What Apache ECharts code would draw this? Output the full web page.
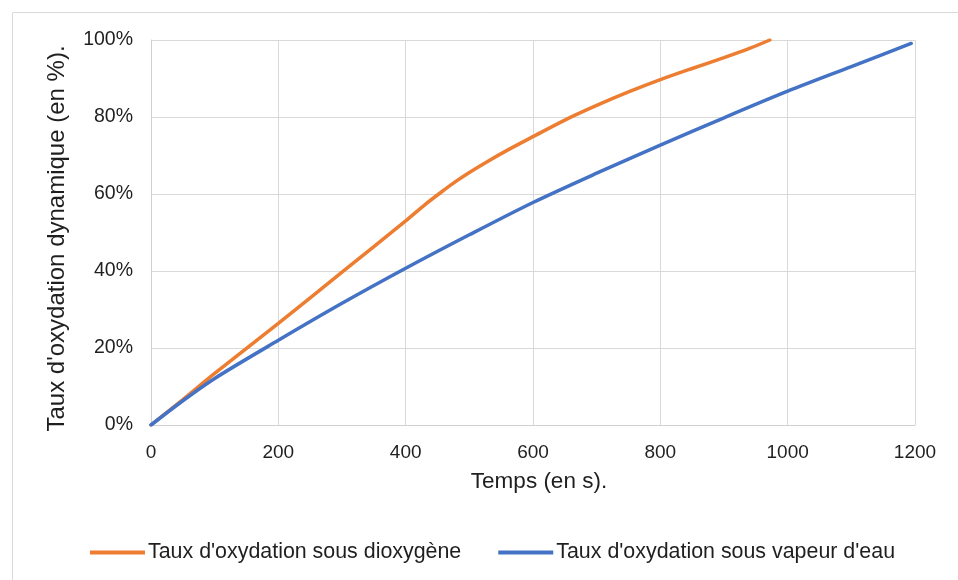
<!DOCTYPE html>
<html>
<head>
<meta charset="utf-8">
<script src="https://cdn.jsdelivr.net/npm/echarts@6/dist/echarts.min.js"></script>
<style>
html,body{margin:0;padding:0;background:#fff;}
#chart{width:958px;height:580px;}
</style>
</head>
<body>
<div id="chart"></div>
<script>
var seriesNames = ["Taux d'oxydation sous dioxygène", "Taux d'oxydation sous vapeur d'eau"];
var timeO2 = [0, 50, 100, 200, 300, 400, 430, 460, 480, 500, 530, 560, 600, 650, 700, 750, 800, 850, 900, 940, 972];
var rateO2 = [0, 6.6, 13.4, 26.4, 39.7, 53.0, 57.2, 61.0, 63.4, 65.6, 68.6, 71.4, 74.9, 79.2, 83.0, 86.5, 89.7, 92.6, 95.4, 97.8, 100];
var timeH2O = [0, 50, 100, 200, 300, 400, 500, 600, 700, 800, 900, 1000, 1100, 1194];
var rateH2O = [0, 6.3, 12.1, 22.0, 31.6, 40.7, 49.4, 57.8, 65.4, 72.7, 79.8, 86.7, 93.1, 99.1];
var xTicks = [0, 200, 400, 600, 800, 1000, 1200];
var yTicks = [0, 20, 40, 60, 80, 100];

function pairs(xs, ys) { return xs.map(function (x, i) { return [x, ys[i]]; }); }

var FONT = 'Liberation Sans, Arial, sans-serif';
var TXT = '#1f1f1f';
var chart = echarts.init(document.getElementById('chart'), null, {renderer: 'canvas'});
chart.setOption({
  animation: false,
  backgroundColor: '#fff',
  graphic: [{
    type: 'rect', left: 10, top: 10, silent: true,
    shape: {width: 960, height: 580},
    style: {fill: 'none', stroke: '#D9D9D9', lineWidth: 1}
  }],
  grid: {left: 151, right: 43, top: 40, bottom: 155},
  legend: {
    top: 537, left: 85,
    itemWidth: 55, itemHeight: 4, itemGap: 37,
    icon: 'rect',
    textStyle: {fontFamily: FONT, fontSize: 21.4, color: TXT, padding: [0, 0, 0, -2]},
    data: seriesNames
  },
  xAxis: {
    type: 'value', min: xTicks[0], max: xTicks[xTicks.length - 1], interval: 200,
    name: 'Temps (en s).', nameLocation: 'middle', nameGap: 45,
    nameTextStyle: {fontFamily: FONT, fontSize: 22.5, color: TXT, padding: [0, 0, 0, 12]},
    axisLine: {show: true, lineStyle: {color: '#D0D0D0', width: 1}},
    axisTick: {show: false},
    axisLabel: {fontFamily: FONT, fontSize: 19, color: TXT, margin: 18, formatter: function (v) { return String(v); }},
    splitLine: {show: true, lineStyle: {color: '#D9D9D9', width: 1}}
  },
  yAxis: {
    type: 'value', min: yTicks[0], max: yTicks[yTicks.length - 1], interval: 20,
    name: "Taux d'oxydation dynamique (en %).", nameLocation: 'middle', nameGap: 82, nameRotate: 90,
    nameTextStyle: {fontFamily: FONT, fontSize: 24, color: TXT, padding: [0, 12, 0, 0]},
    axisLine: {show: true, lineStyle: {color: '#D0D0D0', width: 1}},
    axisTick: {show: false},
    axisLabel: {fontFamily: FONT, fontSize: 19.5, color: TXT, margin: 18, formatter: '{value}%'},
    splitLine: {show: true, lineStyle: {color: '#D9D9D9', width: 1}}
  },
  series: [
    {
      name: seriesNames[0], type: 'line', data: pairs(timeO2, rateO2),
      smooth: 0.3, showSymbol: false, symbol: 'none',
      lineStyle: {color: '#ED7D31', width: 3.5, cap: 'round'},
      itemStyle: {color: '#ED7D31'}
    },
    {
      name: seriesNames[1], type: 'line', data: pairs(timeH2O, rateH2O),
      smooth: 0.3, showSymbol: false, symbol: 'none',
      lineStyle: {color: '#4472C4', width: 3.5, cap: 'round'},
      itemStyle: {color: '#4472C4'}
    }
  ]
});
</script>
</body>
</html>
